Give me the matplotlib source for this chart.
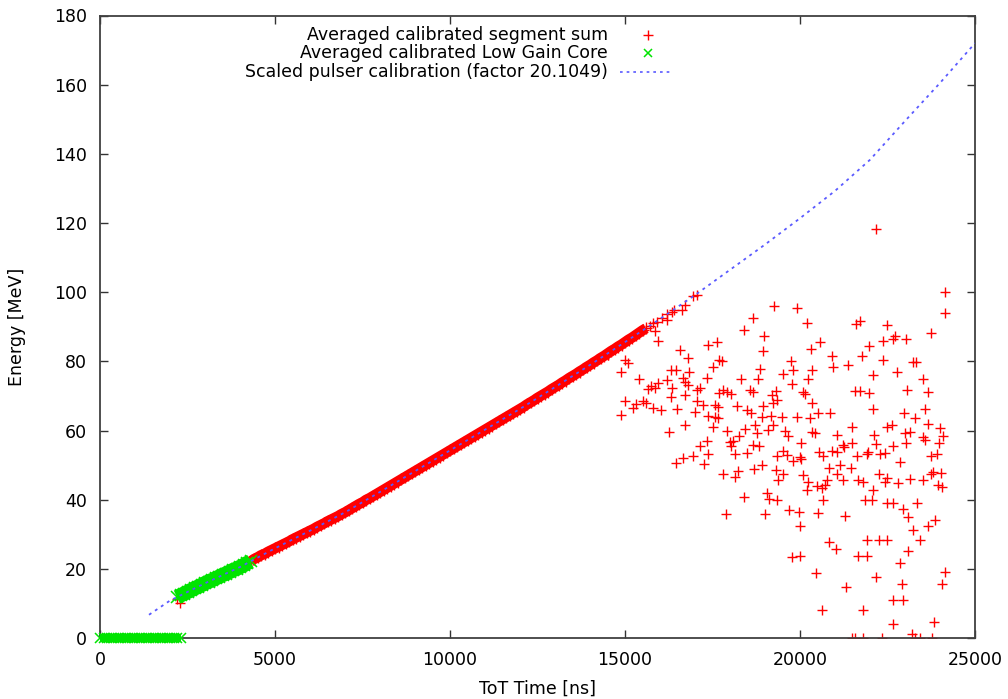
import matplotlib
matplotlib.use('Agg')
import matplotlib.pyplot as plt

# ---- data ----

# scaled pulser calibration curve (ToT ns, MeV)
cal_tot = [1400, 2000, 3000, 4000, 5000, 6000, 7000, 8000, 9000, 10000, 11000, 12000,
           13000, 14000, 15000, 16000, 17000, 18000, 19000, 20000, 21000, 22000, 23000,
           24000, 25000]
cal_e = [6.8, 10.9, 15.9, 20.6, 26.0, 31.1, 36.4, 42.3, 48.3, 54.3, 60.3, 66.3,
         72.6, 79.0, 85.6, 92.3, 99.2, 106.5, 113.8, 121.4, 129.3, 138.3, 149.5,
         160.5, 172.0]

# averaged calibrated segment sum: dense band along the calibration
band_tot = [4300, 4400, 4500, 4600, 4700, 4800, 4900, 5000, 5100, 5200, 5300, 5400,
            5500, 5600, 5700, 5800, 5900, 6000, 6100, 6200, 6300, 6400, 6500, 6600,
            6700, 6800, 6900, 7000, 7100, 7200, 7300, 7400, 7500, 7600, 7700, 7800,
            7900, 8000, 8100, 8200, 8300, 8400, 8500, 8600, 8700, 8800, 8900, 9000,
            9100, 9200, 9300, 9400, 9500, 9600, 9700, 9800, 9900, 10000, 10100, 10200,
            10300, 10400, 10500, 10600, 10700, 10800, 10900, 11000, 11100, 11200,
            11300, 11400, 11500, 11600, 11700, 11800, 11900, 12000, 12100, 12200,
            12300, 12400, 12500, 12600, 12700, 12800, 12900, 13000, 13100, 13200,
            13300, 13400, 13500, 13600, 13700, 13800, 13900, 14000, 14100, 14200,
            14300, 14400, 14500, 14600, 14700, 14800, 14900, 15000, 15100, 15200,
            15300, 15400, 15500, 15600]
band_e = [22.2, 22.9, 23.4, 24.0, 24.4, 25.0, 25.5, 26.0, 26.5, 27.0, 27.5, 28.0,
          28.6, 29.1, 29.6, 30.1, 30.6, 31.1, 31.6, 32.2, 32.7, 33.2, 33.8, 34.3,
          34.8, 35.3, 35.9, 36.4, 37.0, 37.6, 38.2, 38.8, 39.3, 40.0, 40.5, 41.1,
          41.7, 42.3, 42.9, 43.5, 44.1, 44.7, 45.3, 45.9, 46.5, 47.1, 47.7, 48.3,
          48.9, 49.5, 50.1, 50.7, 51.3, 51.9, 52.5, 53.1, 53.7, 54.3, 54.9, 55.5,
          56.1, 56.7, 57.3, 57.9, 58.5, 59.1, 59.7, 60.3, 60.9, 61.5,
          62.1, 62.7, 63.3, 63.9, 64.5, 65.1, 65.7, 66.3, 66.9, 67.6,
          68.2, 68.8, 69.5, 70.1, 70.7, 71.3, 72.0, 72.6, 73.2, 73.9,
          74.5, 75.2, 75.8, 76.4, 77.1, 77.7, 78.4, 79.0, 79.7, 80.3,
          81.0, 81.6, 82.3, 83.0, 83.6, 84.3, 84.9, 85.6, 86.3, 86.9,
          87.6, 88.3, 89.0, 89.6]

# averaged calibrated segment sum: points at the band ends and scattered above ~15000 ns
scat_tot = [15700, 15800, 15850, 15900, 16050, 16190, 16200, 16333, 16400, 16620,
            16700, 16950, 17050, 2190, 2286,
            24143, 19267, 19905, 18667, 20210, 18410, 18981, 21600, 21715, 22496,
            23734, 22381, 22667, 22715, 23029, 21981, 20572, 20305, 18953, 16572,
            15943, 17362, 17638, 20905, 21762, 22362, 23238, 23315, 19743, 16810,
            17772, 17696, 17505, 18857, 19791, 19505, 20343, 20934, 21362, 22762,
            23524, 14876, 15410, 16305, 16457, 16648, 16838, 17334, 18315, 18800,
            20238, 22077, 15743, 15667, 15857, 15953, 16210, 16334, 16724, 16810,
            17048, 17143, 17810, 17924, 18019, 18572, 18667, 19315, 19191, 19762,
            20096, 20143, 21572, 21715, 21981, 23048, 23667, 15000, 15505, 15238,
            15315, 15600, 15810, 16019, 16305, 16477, 16724, 17067, 17219, 17010,
            17572, 17696, 17667, 18191, 18477, 18934, 19238, 19334, 20353, 22077,
            23572, 22972, 23286, 14876, 17362, 17572, 17667, 18591, 18915, 19162,
            19477, 19905, 20286, 20524, 20858, 23667, 22620, 16267, 16715, 17524,
            17905, 18000, 18096, 18267, 18429, 18715, 18762, 19096, 19238, 19572,
            19667, 20029, 20353, 20429, 21048, 21239, 21477, 21496, 22124, 22172,
            22496, 22667, 23020, 23001, 23143, 23505, 23581, 23996, 24096, 23981,
            17334, 17143, 17381, 16953, 16667, 16457, 17257, 18019, 18134, 18477,
            18667, 18839, 19524, 20000, 19619, 19334, 20553, 20667, 21048, 21258,
            20905, 21905, 21953, 22286, 22429, 21620, 22858, 23905, 23743, 17810,
            18143, 18239, 18696, 18905, 19315, 19381, 19524, 19810, 20019, 20096,
            20238, 20191, 20477, 20619, 20715, 20762, 20820, 21048, 21143, 21219,
            21448, 21667, 21810, 22077, 22248, 22429, 22477, 22791, 23143, 23505,
            23734, 23810, 24019, 23953, 24048, 19048, 19105, 18410, 19353, 20648,
            21858, 22048, 22496, 22667, 22934, 23353, 23096, 17886, 19000, 19677,
            19981, 20524, 21286, 20000, 23667, 23858, 23220, 23429, 21905, 22267,
            22477, 20820, 21019, 19762, 20000, 21648, 21905, 23096, 22858, 20458,
            22172, 21315, 22905, 24143, 24048, 20619, 21810, 22667, 22953, 22667,
            23839, 23191, 21480, 21560, 21810, 22334, 23286, 23429, 23781,
            15095, 15000, 14524, 22171, 24143]
scat_e = [90.3, 91.2, 88.8, 91.5, 92.6, 92.0, 93.8, 94.4, 94.8, 95.0,
          96.2, 98.8, 99.2, 11.5, 10.2,
          93.9, 96.1, 95.5, 92.5, 91.0, 89.1, 87.4, 90.9, 91.8, 90.6,
          88.3, 86.0, 86.4, 87.4, 86.6, 84.5, 85.5, 83.6, 82.9, 83.3,
          85.9, 84.8, 85.5, 81.6, 81.6, 80.4, 79.9, 79.9, 80.0, 80.9,
          80.2, 80.4, 78.5, 77.7, 77.5, 76.4, 77.5, 78.5, 78.9, 77.1,
          74.8, 77.1, 74.8, 77.5, 77.5, 75.1, 77.1, 75.1, 74.8, 74.8,
          74.9, 76.1, 72.9, 72.0, 72.2, 73.7, 74.7, 72.2, 74.2, 73.2,
          71.8, 72.2, 71.8, 71.1, 70.5, 71.9, 71.3, 71.6, 70.3, 73.4,
          71.3, 70.6, 71.6, 71.6, 70.8, 71.8, 71.3, 68.7, 68.7, 66.5,
          67.7, 68.1, 66.5, 66.0, 69.6, 66.2, 70.3, 68.7, 67.4, 65.5,
          67.4, 70.8, 66.9, 67.1, 66.0, 67.1, 67.9, 68.9, 68.1, 66.2,
          66.2, 65.2, 63.8, 64.5, 64.3, 64.0, 63.8, 65.0, 64.0, 64.2,
          64.0, 64.0, 63.6, 65.0, 65.0, 61.9, 61.6, 59.7, 61.6, 61.1,
          60.0, 56.8, 57.1, 58.4, 60.4, 61.6, 59.2, 60.2, 61.6, 60.0,
          58.4, 56.5, 59.7, 59.2, 58.7, 56.0, 61.0, 56.5, 58.7, 56.1,
          61.0, 55.6, 56.5, 59.4, 59.7, 58.3, 57.3, 60.7, 58.4, 56.5,
          57.1, 55.6, 53.4, 52.7, 52.0, 50.7, 50.5, 55.6, 53.2, 53.6,
          55.8, 55.6, 54.2, 52.3, 53.0, 52.7, 53.9, 52.7, 53.9, 55.4,
          54.2, 53.4, 53.9, 53.2, 53.6, 52.7, 51.0, 53.4, 52.7, 47.6,
          46.5, 48.4, 48.8, 50.1, 48.6, 45.7, 47.6, 51.3, 51.9, 47.2,
          45.2, 42.8, 44.0, 43.5, 44.3, 45.7, 49.1, 47.6, 50.1, 45.7,
          49.1, 45.7, 45.2, 43.0, 47.6, 45.2, 46.2, 44.9, 45.9, 45.7,
          47.6, 48.1, 47.8, 44.3, 43.6, 42.0, 40.4, 40.7, 39.9, 39.9,
          39.9, 39.9, 39.2, 39.2, 37.5, 39.2, 35.1, 35.9, 35.9, 37.2,
          36.5, 36.3, 35.4, 32.6, 32.4, 34.1, 31.3, 28.5, 28.5, 28.5,
          28.5, 27.7, 25.7, 23.5, 23.7, 23.7, 23.7, 25.3, 21.8, 18.9,
          17.7, 14.7, 15.6, 19.2, 15.8, 8.3, 8.3, 11.0, 11.0, 4.1,
          4.7, 1.3, 0.0, 0.0, 0.0, 0.0, 0.0, 0.0, 0.0,
          79.5, 80.4, 81.9, 118.4, 100.0]

# averaged calibrated low gain core: band along the calibration and the row at 0 MeV
lgc_tot = [2200, 2300, 2400, 2500, 2600, 2700, 2800, 2900, 3000, 3100, 3200, 3300,
           3400, 3500, 3600, 3700, 3800, 3900, 4000, 4100, 4200, 4300]
lgc_e = [11.9, 12.4, 12.9, 13.4, 13.9, 14.4, 14.9, 15.4, 15.9, 16.4, 16.8, 17.3,
         17.8, 18.3, 18.7, 19.2, 19.7, 20.1, 20.6, 21.1, 21.7, 22.2]
lgc0_tot = [0, 100, 200, 300, 400, 500, 600, 700, 800, 900, 1000, 1100, 1200, 1300,
            1400, 1500, 1600, 1700, 1800, 1900, 2000, 2100, 2200, 2300]
lgc0_e = [0, 0, 0, 0, 0, 0, 0, 0, 0, 0, 0, 0, 0, 0,
          0, 0, 0, 0, 0, 0, 0, 0, 0, 0]

labels = ['Averaged calibrated segment sum',
          'Averaged calibrated Low Gain Core',
          'Scaled pulser calibration (factor 20.1049)']

# ---- plotting ----
plt.rcParams['font.family'] = 'DejaVu Sans'
fs = 12.5

fig = plt.figure(figsize=(10.08, 6.99), dpi=100)
ax = fig.add_axes([100/1008, 1 - 638.3/699, 875/1008, 622.8/699])

red = '#ff0000'
green = '#00e400'
blue = '#5a5aff'

# points are so dense along the curve that they merge into a solid band
ax.plot(band_tot, band_e, ls='-', lw=7.5, solid_capstyle='butt', marker='+',
        ms=8.5, mew=1.0, color=red, zorder=2)
ax.plot(scat_tot, scat_e, ls='none', marker='+', ms=7.2, mew=1.0, color=red,
        zorder=2)
ax.plot(lgc_tot, lgc_e, ls='-', lw=10.5, solid_capstyle='butt', marker='x', ms=8.0,
        mew=1.1, color=green, zorder=3)
ax.plot(lgc0_tot, lgc0_e, ls='-', lw=6, solid_capstyle='butt', marker='x',
        ms=6.5, mew=1.1, color=green, zorder=3, clip_on=False)
ax.plot(cal_tot, cal_e, ls=(0, (1.6, 2.4)), lw=1.3, color=blue, zorder=4)

ax.set_xlim(0, 25000)
ax.set_ylim(0, 180)
ax.set_xticks(range(0, 25001, 5000))
ax.set_yticks(range(0, 181, 20))
ax.tick_params(direction='in', length=5.8, width=1.0, color='#333333',
               top=True, right=True, labelsize=fs, pad=9.5)
for s in ax.spines.values():
    s.set_color('#404040')
    s.set_linewidth(1.3)

ax.set_xlabel('ToT Time [ns]', fontsize=fs)
ax.set_ylabel('Energy [MeV]', fontsize=fs)
ax.xaxis.set_label_coords(0.5, -0.066)
ax.yaxis.set_label_coords(-0.0846, 0.5)

# gnuplot style key: text right aligned, sample to the right
tx = 0.5806
rows = [0.9687, 0.9398, 0.9093]
for lab, ry in zip(labels, rows):
    ax.text(tx, ry, lab, transform=ax.transAxes, ha='right', va='center',
            fontsize=fs)
ax.plot([0.626], [rows[0]], marker='+', ms=7.2, mew=1.0, color=red,
        transform=ax.transAxes, clip_on=False)
ax.plot([0.626], [rows[1]], marker='x', ms=6.0, mew=1.1, color=green,
        transform=ax.transAxes, clip_on=False)
ax.plot([0.594, 0.655], [rows[2], rows[2]], ls=(0, (1.6, 2.4)), lw=1.2,
        color=blue, transform=ax.transAxes, clip_on=False)

fig.savefig('out.png', dpi=100)
